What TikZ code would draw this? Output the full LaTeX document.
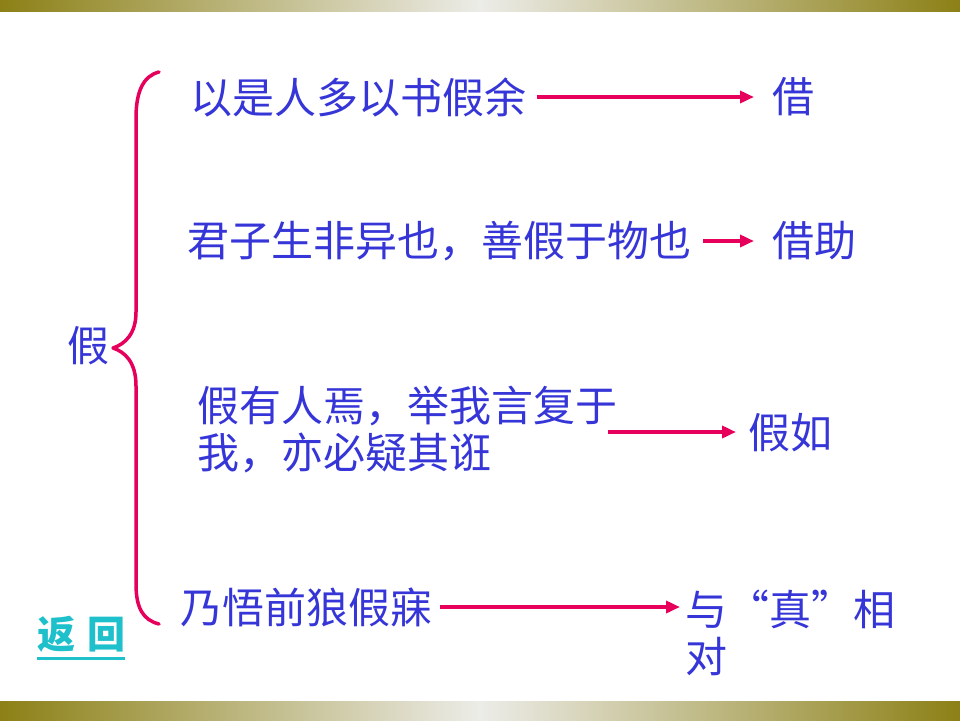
\documentclass[tikz,border=0pt]{standalone}
\usepackage{fontspec}
\newfontfamily\cjk{Noto Sans CJK SC}
\usetikzlibrary{arrows.meta,calc}
\definecolor{txtblue}{HTML}{3535D8}
\definecolor{arrred}{HTML}{E6005C}
\definecolor{bandedge}{HTML}{8C8016}
\definecolor{bandmid}{HTML}{ECECE8}
\definecolor{linkcyan}{HTML}{1EC0CC}
\tikzset{
  txt/.style={inner sep=0pt, anchor=west, text=txtblue, font=\cjk\fontsize{42}{47}\selectfont, align=left},
  arr/.style={draw=arrred, line width=3.5pt, -{Triangle[length=14pt,width=12pt]}},
  brace/.style={draw=arrred, line width=3.5pt, line cap=round, line join=round},
  band/.style={left color=bandedge, right color=bandedge, middle color=bandmid},
}
\begin{document}
\begin{tikzpicture}[x=1pt,y=-1pt]
\useasboundingbox (0,0) rectangle (960,720);
\fill[white] (0,0) rectangle (960,720);
% bands
\shade[band] (0,0) rectangle (960,11);
\shade[band] (0,701) rectangle (960,720);

% root
\node[txt] (root) at (67,346) {假};

% brace
\draw[brace] (159,72) .. controls (143,76) and (136,92) .. (136,118)
  -- (136,312) .. controls (136,334) and (125,344) .. (113,348)
  .. controls (125,352) and (136,362) .. (136,386)
  -- (136,584) .. controls (136,608) and (143,620) .. (159,624);

% rows
\node[txt] (t1) at (190,97) {以是人多以书假余};
\node[txt] (r1) at (772,97) {借};
\node[txt] (t2) at (187,241) {君子生非异也，善假于物也};
\node[txt] (r2) at (772,241) {借助};
\node[txt] (t3) at (197,429) {假有人焉，举我言复于\\我，亦必疑其诳};
\node[txt] (r3) at (748,433) {假如};
\node[txt] (t4) at (180,607) {乃悟前狼假寐};
\node[txt] (r4) at (685,633) {与“真”相\\对};

\coordinate (a3) at (608,432);
\coordinate (a4) at (680,607);

\draw[arr] ($(t1.east)+(11,0)$) -- ($(r1.west)+(-18,0)$);
\draw[arr] ($(t2.east)+(12,0)$) -- ($(r2.west)+(-18,0)$);
\draw[arr] (a3) -- ($(r3.west)+(-12,-1)$);
\draw[arr] ($(t4.east)+(8,0)$) -- (a4);

% return link
\node[inner sep=0pt, anchor=west, text=linkcyan, font=\cjk\bfseries\fontsize{38}{40}\selectfont] (back) at (37,634) {返\hspace{12pt}回};
\draw[linkcyan, line width=3.5pt] ($(back.south west)+(0,6)$) -- ($(back.south east)+(0,6)$);
\end{tikzpicture}
\end{document}
